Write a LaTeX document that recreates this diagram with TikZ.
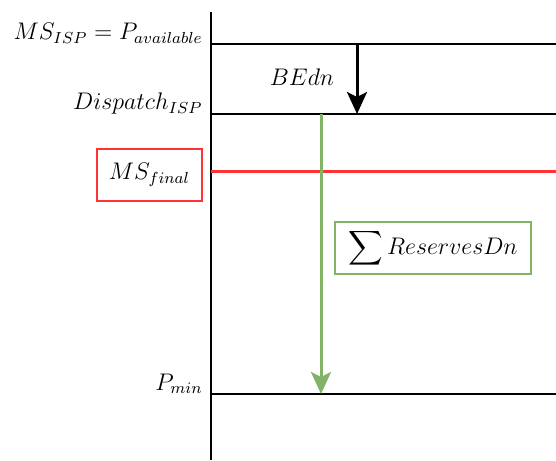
\documentclass[tikz,border=0pt]{standalone}
\usepackage{amsmath}
\usepackage{xcolor}
\usepackage{tikz}
\usetikzlibrary{arrows.meta,positioning}
\definecolor{redline}{HTML}{FF3333}
\definecolor{greenline}{HTML}{82B366}

\begin{document}
\begin{tikzpicture}[x=0.5pt,y=-0.5pt]
  \useasboundingbox (0,0) rectangle (556,460);

  \tikzstyle{every node}=[font=\fontsize{12}{14}\selectfont]
  \tikzstyle{hline}=[line width=0.9pt]
  \tikzstyle{levelname}=[anchor=base east,inner sep=0pt,xshift=-4pt,yshift=2pt]
  \tikzstyle{bigarrow}=[line width=1.5pt,-{Stealth[length=11pt,width=10pt,inset=2.5pt]}]

  % axe vertical
  \coordinate (top) at (211,12);
  \coordinate (bot) at (211,460);
  \draw[hline] (top) -- (bot);

  % niveaux
  \coordinate (L1) at (211,44);  \coordinate (R1) at (556,44);
  \coordinate (L2) at (211,114); \coordinate (R2) at (556,114);
  \coordinate (L3) at (211,171); \coordinate (R3) at (556,171);
  \coordinate (L4) at (211,394); \coordinate (R4) at (556,394);

  \draw[hline] (L1) -- (R1);
  \draw[hline] (L2) -- (R2);
  \draw[hline] (L4) -- (R4);
  \draw[line width=1.5pt,redline] (L3) -- (R3);

  \node[levelname] (avail) at (L1) {$MS_{ISP}=P_{available}$};
  \node[levelname] (disp) at (L2) {$Dispatch_{ISP}$};
  \node[levelname] (pmin) at (L4) {$P_{min}$};

  % MS final
  \node[draw=redline,line width=0.6pt,minimum width=52.5pt,minimum height=26pt]
    (msfinal) at (149.5,175) {$MS_{final}$};

  % BEdn
  \coordinate (be1) at (357,44);
  \coordinate (be2) at (357,114);
  \draw[bigarrow] (be1) -- (be2);
  \node (bedn) at (302,77) {$BEdn$};

  % reserves
  \coordinate (rd1) at (321,114);
  \coordinate (rd2) at (321,394);
  \draw[bigarrow,greenline] (rd1) -- (rd2);
  \node[draw=greenline,line width=0.6pt,minimum width=98pt,minimum height=26pt]
    (resdn) at (433,248) {$\displaystyle\sum ReservesDn$};
\end{tikzpicture}
\end{document}
